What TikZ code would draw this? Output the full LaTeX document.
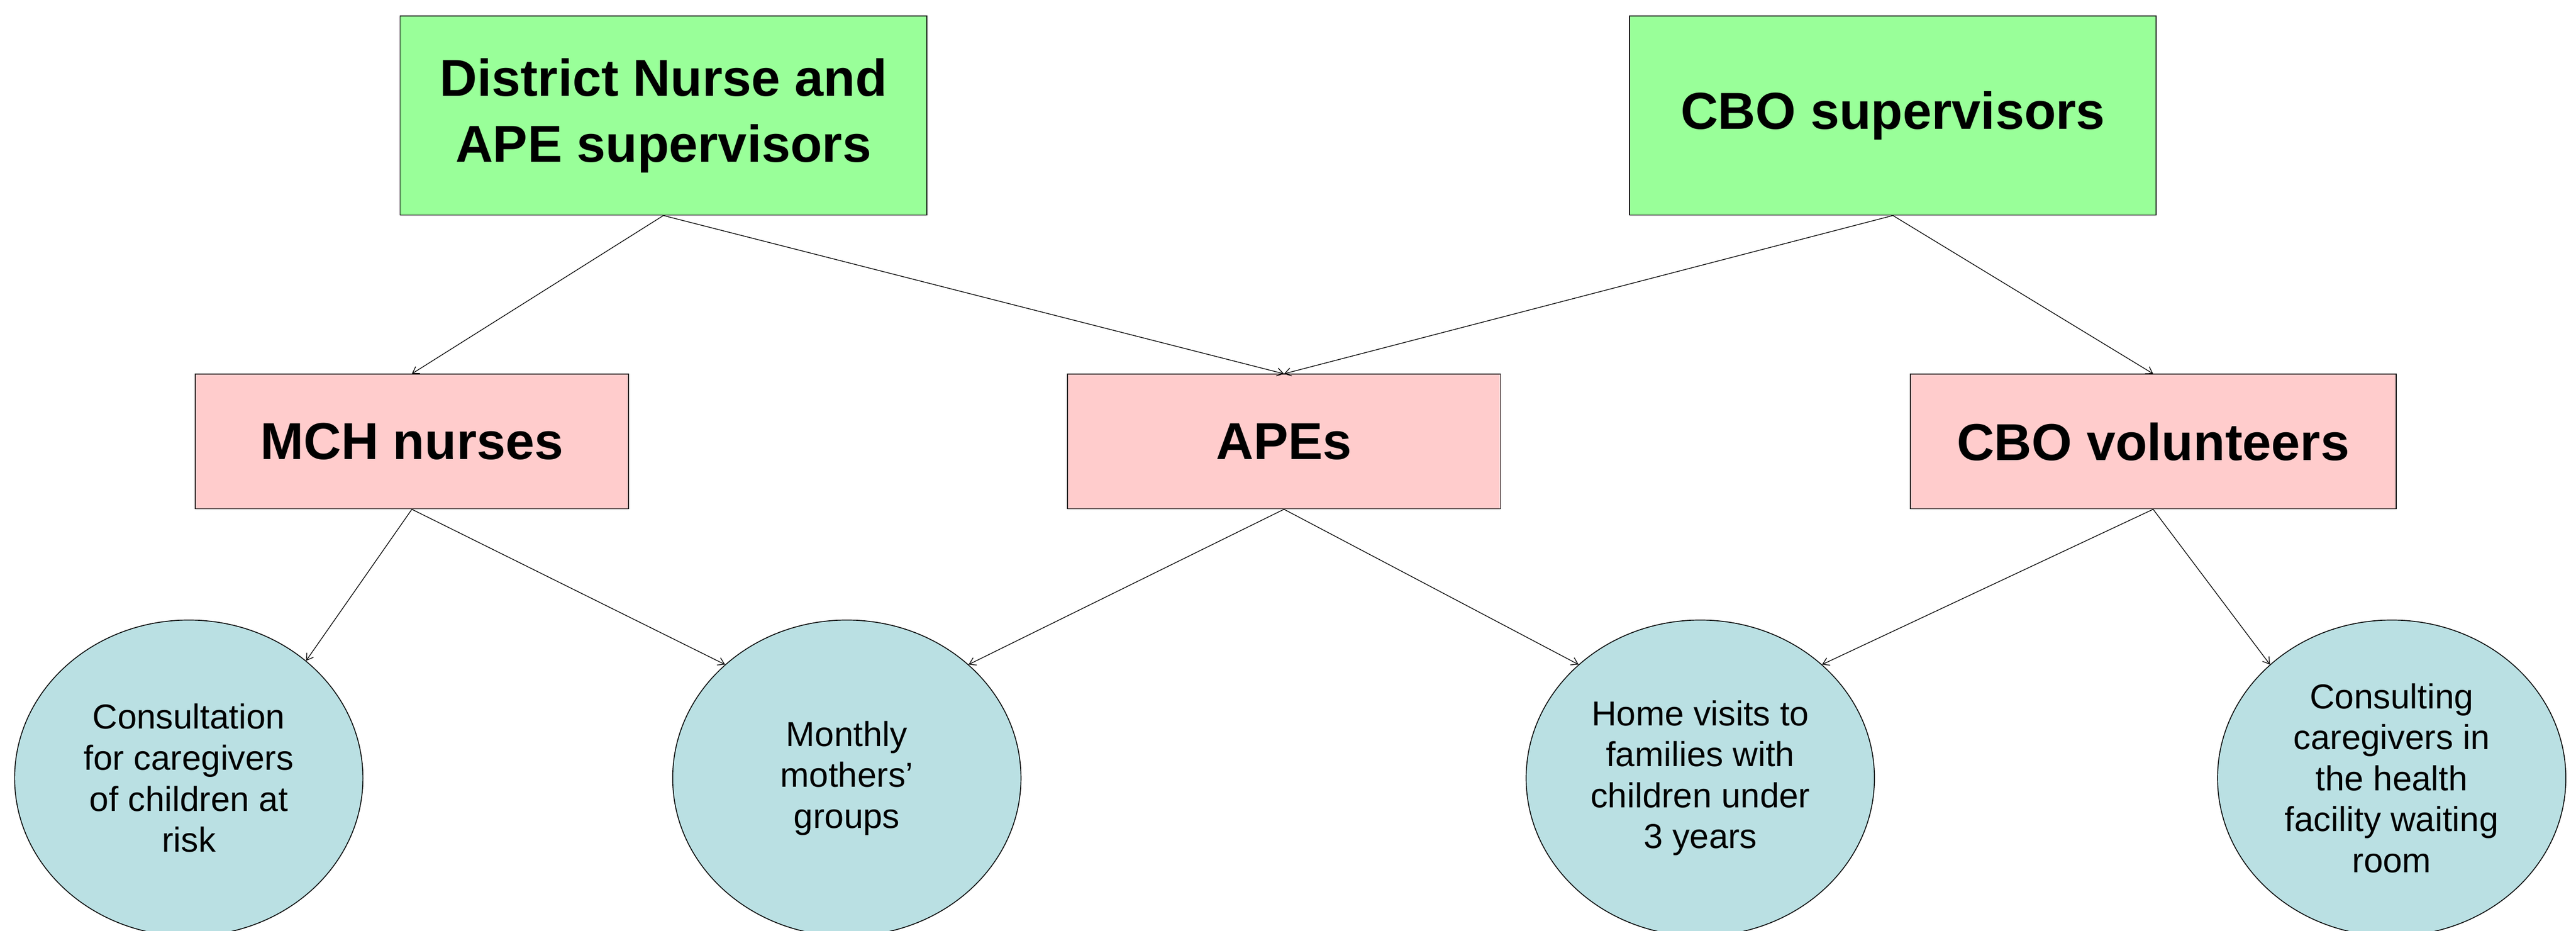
\documentclass[tikz,border=0pt]{standalone}
\usepackage{fontspec}
\setmainfont{Liberation Sans}
\usepackage{tikz}
\usetikzlibrary{arrows.meta,shapes.geometric}
\definecolor{supgreen}{HTML}{99FF99}
\definecolor{staffpink}{HTML}{FFCCCC}
\definecolor{actblue}{HTML}{BAE0E3}
\tikzset{
	supbox/.style={draw, line width=0.3pt, fill=supgreen, minimum width=6.41cm, minimum height=2.423cm, inner sep=0pt, align=center, font={\fontsize{18}{22.8}\selectfont\bfseries}},
	staffbox/.style={draw, line width=0.3pt, fill=staffpink, minimum width=5.273cm, minimum height=1.639cm, inner sep=0pt, align=center, font={\fontsize{18}{22.8}\selectfont\bfseries}},
	actoval/.style={draw, ellipse, line width=0.3pt, fill=actblue, minimum width=4.24cm, minimum height=3.848cm, inner sep=0pt, align=center, font={\fontsize{12}{14.2}\selectfont}},
	link/.style={line width=0.25pt, -{Straight Barb[length=2.2pt,width=2.8pt]}}
}
\begin{document}
\begin{tikzpicture}
		%%%%% START %%%%%
		\useasboundingbox (0, 0) rectangle (31.36, 11.329);
		
		\node[supbox] (district) at (8.076, 9.922) {District Nurse and\\APE supervisors};
		\node[supbox] (cbosup) at (23.044, 9.922) {CBO supervisors};
		
		\node[staffbox] (mch) at (5.014, 5.954) {MCH nurses};
		\node[staffbox] (apes) at (15.631, 5.954) {APEs};
		\node[staffbox, minimum width=5.914cm] (cbovol) at (26.212, 5.954) {CBO volunteers};
		
		\node[actoval] (consult) at (2.298, 1.857) {Consultation\\for caregivers\\of children at\\risk};
		\node[actoval] (groups) at (10.309, 1.857) {Monthly\\mothers’\\groups};
		\node[actoval] (visits) at (20.699, 1.857) {Home visits to\\families with\\children under\\3 years};
		\node[actoval] (waiting) at (29.116, 1.857) {Consulting\\caregivers in\\the health\\facility waiting\\room};
		
		\draw[link] (district.south) -- (mch.north);
		\draw[link] (district.south) -- (apes.north);
		\draw[link] (cbosup.south) -- (apes.north);
		\draw[link] (cbosup.south) -- (cbovol.north);
		
		\draw[link] (mch.south) -- (consult.45);
		\draw[link] (mch.south) -- (groups.137);
		\draw[link] (apes.south) -- (groups.43);
		\draw[link] (apes.south) -- (visits.137);
		\draw[link] (cbovol.south) -- (visits.43);
		\draw[link] (cbovol.south) -- (waiting.137);
		
		%%%%% END %%%%%
	\end{tikzpicture}
\end{document}
